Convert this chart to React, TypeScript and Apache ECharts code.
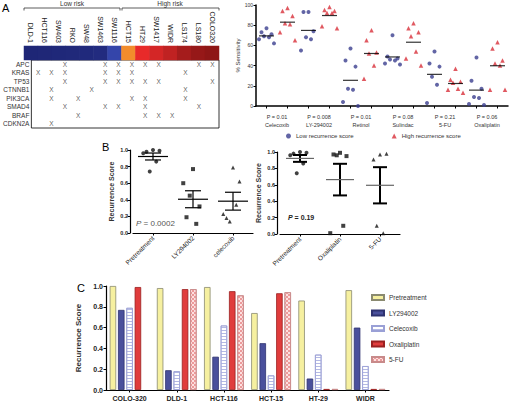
import React, { useEffect, useRef } from "react";
import * as echarts from "echarts";

// ---------- Panel A (left): mutation table ----------
const cellLines = ["DLD-1", "HCT116", "SW403", "RKO", "SW48", "SW1463", "SW1116", "HCT15", "HT29", "SW1417", "WIDR", "LS174", "LS180", "COLO320"];
const riskScores = [0.0, 0.02, 0.04, 0.06, 0.08, 0.12, 0.333, 0.5, 0.667, 0.72, 0.77, 0.85, 0.92, 0.96];
const genes = ["APC", "KRAS", "TP53", "CTNNB1", "PIK3CA", "SMAD4", "BRAF", "CDKN2A"];
const mutAPC = ["SW403", "SW1463", "SW1116", "HCT15", "HT29", "SW1417", "LS180", "COLO320"];
const mutKRAS = ["DLD-1", "HCT116", "SW403", "SW1463", "SW1116", "HCT15", "LS174"];
const mutTP53 = ["SW403", "SW1463", "SW1116", "HCT15", "HT29", "SW1417", "COLO320"];
const mutCTNNB1 = ["HCT116", "SW48", "LS174"];
const mutPIK3CA = ["HCT116", "RKO", "HCT15", "HT29", "LS174"];
const mutSMAD4 = ["SW403", "SW1463", "SW1116", "HT29", "LS180"];
const mutBRAF = ["RKO", "HT29", "SW1417", "WIDR"];
const mutCDKN2A = ["HCT116"];
const mutationLists = [mutAPC, mutKRAS, mutTP53, mutCTNNB1, mutPIK3CA, mutSMAD4, mutBRAF, mutCDKN2A];

// ---------- Panel A (right): % sensitivity ----------
const drugs = ["Celecoxib", "LY-294002", "Retinol", "Sulindac", "5-FU", "Oxaliplatin"];
const pValues = ["0.01", "0.008", "0.01", "0.08", "0.21", "0.06"];
const lowCelecoxib = [77, 73, 71, 69, 68, 66, 62];
const highCelecoxib = [97, 94, 89, 82, 81, 73, 65];
const lowLY = [93, 93, 74, 68, 66, 55];
const highLY = [98, 95, 94, 92, 92, 79, 77];
const lowRetinol = [57, 45, 39, 17, 16, 4, 0];
const highRetinol = [75, 65, 53, 52, 40, 27];
const lowSulindac = [70, 49, 47, 46, 45, 42, 41];
const highSulindac = [82, 77, 73, 69, 54, 47, 40];
const low5FU = [54, 42, 39, 29, 21, 3];
const high5FU = [37, 26, 24, 23, 17, 16, 13];
const lowOxaliplatin = [48, 25, 17, 9, 8, 2, 1];
const highOxaliplatin = [63, 57, 45, 42, 40, 16, 16];
const lowGroups = [lowCelecoxib, lowLY, lowRetinol, lowSulindac, low5FU, lowOxaliplatin];
const highGroups = [highCelecoxib, highLY, highRetinol, highSulindac, high5FU, highOxaliplatin];

// ---------- Panel C: recurrence score per cell line ----------
const recCells = ["COLO-320", "DLD-1", "HCT-116", "HCT-15", "HT-29", "WIDR"];
const recPretreatment = [1.0, 0.98, 0.99, 0.74, 0.86, 0.96];
const recLY294002 = [0.77, 0.19, 0.32, 0.45, 0.11, 0.6];
const recCelecoxib = [0.79, 0.18, 0.62, 0.14, 0.34, 0.23];
const recOxaliplatin = [0.99, 0.97, 0.95, 0.93, 0.01, 0.01];
const rec5FU = [null, 0.97, 0.91, 0.94, 0.01, 0.01];

// ---------- Panel B ----------
const bLeftCats = ["Pretreatment", "LY294002", "celecoxib"];
const bRightCats = ["Pretreatment", "Oxaliplatin", "5-FU"];
const bOxaliplatin = [0.99, 0.97, 0.95, 0.96, 0.1, 0.01];
const b5FU = [0.97, 0.91, 0.98, 0.1, 0.01];
const bLeftGroups = [recPretreatment, recLY294002, recCelecoxib];
const bRightGroups = [recPretreatment, bOxaliplatin, b5FU];
const bSymbols = ["circle", "rect", "triangle"];

const FONT = "'Liberation Sans', Arial, Helvetica, sans-serif";
const jit = [0, -5, 5, -2.5, 2.5, -7.5, 7.5];

const mean = (a: number[]) => a.reduce((s, v) => s + v, 0) / a.length;
const sem = (a: number[]) => {
  const m = mean(a);
  const v = a.reduce((s, x) => s + (x - m) * (x - m), 0) / (a.length - 1);
  return Math.sqrt(v) / Math.sqrt(a.length);
};

const errRender = (lw: number, meanColor: string, halfMean: number, halfWhisk: number) =>
  (params: any, api: any) => {
    const x = api.value(0);
    const m = api.value(1);
    const s = api.value(2);
    const c = api.coord([x, m]);
    const t = api.coord([x, m + s]);
    const b = api.coord([x, m - s]);
    return {
      type: "group",
      children: [
        { type: "line", shape: { x1: c[0], y1: t[1], x2: c[0], y2: b[1] }, style: { stroke: "#000", lineWidth: lw } },
        { type: "line", shape: { x1: c[0] - halfWhisk, y1: t[1], x2: c[0] + halfWhisk, y2: t[1] }, style: { stroke: "#000", lineWidth: lw } },
        { type: "line", shape: { x1: c[0] - halfWhisk, y1: b[1], x2: c[0] + halfWhisk, y2: b[1] }, style: { stroke: "#000", lineWidth: lw } },
        { type: "line", shape: { x1: c[0] - halfMean, y1: c[1], x2: c[0] + halfMean, y2: c[1] }, style: { stroke: meanColor, lineWidth: 1.2 } },
      ],
    };
  };

export default function App() {
  const ref = useRef<HTMLDivElement>(null);
  useEffect(() => {
    document.body.style.margin = "0";
    if (!ref.current) return;
    const chart = echarts.init(ref.current, undefined, { renderer: "svg" });

    const heatData = cellLines.map((c, i) => [i, 0, riskScores[i]]);
    const xMarks: number[][] = [];
    mutationLists.forEach((list, g) => list.forEach((c) => xMarks.push([cellLines.indexOf(c), g])));

    const lowPts: any[] = [];
    const highPts: any[] = [];
    const meanPts: any[] = [];
    lowGroups.forEach((arr, d) => {
      arr.forEach((v, i) => lowPts.push({ value: [2 * d, v], symbolOffset: [jit[i % jit.length], 0] }));
      meanPts.push([2 * d, mean(arr)]);
    });
    highGroups.forEach((arr, d) => {
      arr.forEach((v, i) => highPts.push({ value: [2 * d + 1, v], symbolOffset: [jit[i % jit.length], 0] }));
      meanPts.push([2 * d + 1, mean(arr)]);
    });

    const bPts = (groups: number[][], syms: string[]) => {
      const out: any[] = [];
      groups.forEach((arr, g) =>
        arr.forEach((v, i) =>
          out.push({ value: [g, v], symbol: syms[g], symbolOffset: [jit[i % jit.length] * 1.3, 0] })
        )
      );
      return out;
    };
    const bErr = (groups: number[][]) => groups.map((arr, g) => [g, mean(arr), sem(arr)]);

    const bValueAxis = (gridIndex: number) => ({
      type: "value",
      gridIndex,
      min: 0,
      max: 1,
      interval: 0.2,
      offset: 3,
      name: "Recurrence Score",
      nameLocation: "middle",
      nameGap: 15,
      nameTextStyle: { fontSize: 7, fontWeight: "bold", color: "#333" },
      axisLine: { show: true, lineStyle: { color: "#000", width: 1.2 } },
      axisTick: { show: true, length: 2.5, lineStyle: { color: "#000" } },
      axisLabel: { fontSize: 5.5, fontWeight: "bold", color: "#222", margin: 2, formatter: (v: number) => v.toFixed(1) },
      splitLine: { show: false },
    });
    const bCatAxis = (gridIndex: number, data: string[]) => ({
      type: "category",
      gridIndex,
      data,
      axisLine: { show: true, lineStyle: { color: "#000", width: 1.2 } },
      axisTick: { show: true, alignWithLabel: true, length: 2.5, lineStyle: { color: "#000" } },
      axisLabel: { fontSize: 6.5, color: "#222", rotate: 45, margin: 4, interval: 0 },
    });

    const barBase = { type: "bar", xAxisIndex: 6, yAxisIndex: 5, barWidth: 6.5, barGap: "28%" };

    chart.setOption({
      animation: false,
      textStyle: { fontFamily: FONT },
      grid: [
        { left: 24, top: 46, width: 195, height: 14 },
        { left: 24, top: 60, width: 195, height: 68, show: true, borderColor: "#000", borderWidth: 0.8 },
        { left: 256, top: 5, width: 252, height: 101 },
        { left: 133, top: 150, width: 120, height: 83 },
        { left: 280, top: 152, width: 120, height: 82 },
        { left: 106, top: 286, width: 283, height: 104 },
      ],
      visualMap: {
        show: false,
        seriesIndex: 0,
        min: 0,
        max: 1,
        inRange: { color: ["#1e2676", "#232d82", "#3445aa", "#f28c2c", "#e82a2a", "#a81d1d", "#861414"] },
      },
      xAxis: [
        {
          type: "category", gridIndex: 0, data: cellLines, position: "top",
          axisLine: { show: false }, axisTick: { show: false },
          axisLabel: { rotate: 90, fontSize: 7, color: "#222", margin: 3, interval: 0 },
        },
        { type: "category", gridIndex: 1, data: cellLines, axisLine: { show: false }, axisTick: { show: false }, axisLabel: { show: false } },
        {
          type: "category", gridIndex: 2, data: drugs.flatMap((d) => [d + " low", d + " high"]),
          axisLine: { show: true, lineStyle: { color: "#000", width: 1.5 } },
          axisTick: { show: true, alignWithLabel: true, interval: 0, length: 2.5, lineStyle: { color: "#000" } },
          axisLabel: { show: false },
        },
        {
          type: "category", gridIndex: 2, data: drugs, position: "bottom",
          axisLine: { show: false }, axisTick: { show: false },
          axisLabel: {
            interval: 0, margin: 7, fontSize: 5.5, color: "#333", lineHeight: 8,
            formatter: (name: string, idx: number) => `P = ${pValues[idx]}\n${name}`,
          },
        },
        bCatAxis(3, bLeftCats),
        bCatAxis(4, bRightCats),
        {
          type: "category", gridIndex: 5, data: recCells,
          axisLine: { show: true, lineStyle: { color: "#000", width: 1.2 } },
          axisTick: { show: true, alignWithLabel: true, length: 2.5, lineStyle: { color: "#000" } },
          axisLabel: { fontSize: 7, fontWeight: "bold", color: "#222", margin: 5, interval: 0 },
        },
      ],
      yAxis: [
        { type: "category", gridIndex: 0, data: ["risk"], show: false },
        {
          type: "category", gridIndex: 1, data: genes, inverse: true,
          axisLine: { show: false }, axisTick: { show: false },
          axisLabel: { fontSize: 6.5, color: "#333", margin: 2, interval: 0 },
        },
        {
          type: "value", gridIndex: 2, min: 0, max: 100, interval: 20,
          name: "% Sensitivity", nameLocation: "middle", nameGap: 15,
          nameTextStyle: { fontSize: 6, color: "#333" },
          axisLine: { show: true, lineStyle: { color: "#000", width: 1.5 } },
          axisTick: { show: true, length: 2.5, lineStyle: { color: "#000" } },
          axisLabel: { fontSize: 5, color: "#333", margin: 3 },
          splitLine: { show: false },
        },
        bValueAxis(3),
        bValueAxis(4),
        {
          type: "value", gridIndex: 5, min: 0, max: 1, interval: 0.2,
          name: "Recurrence Score", nameLocation: "middle", nameGap: 19,
          nameTextStyle: { fontSize: 8, fontWeight: "bold", color: "#333" },
          axisLine: { show: true, lineStyle: { color: "#000", width: 1.2 } },
          axisTick: { show: true, length: 2.5, lineStyle: { color: "#000" } },
          axisLabel: { fontSize: 7, fontWeight: "bold", color: "#222", margin: 3, formatter: (v: number) => v.toFixed(1) },
          splitLine: { show: false },
        },
      ],
      legend: [
        {
          left: 281, top: 128, itemWidth: 5, itemHeight: 5, itemGap: 38,
          textStyle: { fontSize: 6, color: "#333" },
          data: [
            { name: "Low recurrence score", icon: "circle" },
            { name: "High recurrence score", icon: "triangle" },
          ],
        },
        {
          left: 366, top: 289, orient: "vertical", itemWidth: 12, itemHeight: 5, itemGap: 8.5,
          textStyle: { fontSize: 6.5, color: "#333" },
          data: ["Pretreatment", "LY294002", "Celecoxib", "Oxaliplatin", "5-FU"].map((n) => ({ name: n, icon: "rect" })),
        },
      ],
      series: [
        { type: "heatmap", xAxisIndex: 0, yAxisIndex: 0, data: heatData, itemStyle: { borderWidth: 0 } },
        {
          type: "scatter", xAxisIndex: 1, yAxisIndex: 1, data: xMarks, symbolSize: 1,
          itemStyle: { color: "rgba(0,0,0,0)" },
          label: { show: true, position: "inside", formatter: "X", fontSize: 6.5, color: "#333" },
        },
        {
          name: "Low recurrence score", type: "scatter", xAxisIndex: 2, yAxisIndex: 2, data: lowPts,
          symbol: "circle", symbolSize: 4, itemStyle: { color: "#3b3f8e" },
        },
        {
          name: "High recurrence score", type: "scatter", xAxisIndex: 2, yAxisIndex: 2, data: highPts,
          symbol: "triangle", symbolSize: 4.5, itemStyle: { color: "#d8303a" },
        },
        {
          name: "group means", type: "scatter", xAxisIndex: 2, yAxisIndex: 2, data: meanPts,
          symbol: "rect", symbolSize: [15, 1.2], itemStyle: { color: "#000" },
        },
        {
          name: "B left points", type: "scatter", xAxisIndex: 4, yAxisIndex: 3, data: bPts(bLeftGroups, bSymbols),
          symbolSize: 4, itemStyle: { color: "#111" }, z: 3,
        },
        {
          name: "B left err", type: "custom", xAxisIndex: 4, yAxisIndex: 3, data: bErr(bLeftGroups),
          renderItem: errRender(1.2, "#000", 15, 8), encode: { x: 0, y: 1 }, z: 4,
        },
        {
          name: "B right points", type: "scatter", xAxisIndex: 5, yAxisIndex: 4, data: bPts(bRightGroups, bSymbols),
          symbolSize: 4, itemStyle: { color: "#111" }, z: 3,
        },
        {
          name: "B right err", type: "custom", xAxisIndex: 5, yAxisIndex: 4, data: bErr(bRightGroups),
          renderItem: errRender(2, "#666", 14, 7), encode: { x: 0, y: 1 }, z: 4,
        },
        {
          ...barBase, name: "Pretreatment", data: recPretreatment,
          itemStyle: { color: "#f6f0a0", borderColor: "#8a8a70", borderWidth: 0.8 },
        },
        {
          ...barBase, name: "LY294002", data: recLY294002,
          itemStyle: { color: "#4a509c", borderColor: "#2e3270", borderWidth: 0.8 },
        },
        {
          ...barBase, name: "Celecoxib", data: recCelecoxib,
          itemStyle: {
            color: "#ffffff", borderColor: "#9aa0d6", borderWidth: 0.8,
            decal: { symbol: "rect", symbolSize: 1, dashArrayX: [1, 0], dashArrayY: [1, 1.4], rotation: 0, color: "#b4b9e4" },
          },
        },
        {
          ...barBase, name: "Oxaliplatin", data: recOxaliplatin,
          itemStyle: { color: "#e03c3c", borderColor: "#9a2020", borderWidth: 0.8 },
        },
        {
          ...barBase, name: "5-FU", data: rec5FU,
          itemStyle: {
            color: "#fde0e0", borderColor: "#c88a8a", borderWidth: 0.8,
            decal: { symbol: "rect", symbolSize: 1, dashArrayX: [[1.2, 1.2], [0, 1.2, 1.2, 0]], dashArrayY: [1.2, 0], rotation: 0, color: "#ec9a9a" },
          },
        },
      ],
      graphic: [
        { type: "text", left: 2, top: 2, style: { text: "A", fontSize: 11, fill: "#000", fontFamily: FONT } },
        { type: "text", left: 102, top: 141, style: { text: "B", fontSize: 11, fill: "#000", fontFamily: FONT } },
        { type: "text", left: 77, top: 282, style: { text: "C", fontSize: 11, fill: "#000", fontFamily: FONT } },
        {
          type: "text", x: 72, y: 0,
          style: { text: "Low risk", fontSize: 6.5, fill: "#333", align: "center", verticalAlign: "top", fontFamily: FONT },
        },
        {
          type: "text", x: 170, y: 0,
          style: { text: "High risk", fontSize: 6.5, fill: "#333", align: "center", verticalAlign: "top", fontFamily: FONT },
        },
        {
          type: "polyline", shape: { points: [[24, 10.5], [24, 8], [120, 8], [120, 10.5]] },
          style: { stroke: "#333", lineWidth: 0.8, fill: "none" },
        },
        {
          type: "polyline", shape: { points: [[122, 10.5], [122, 8], [219, 8], [219, 10.5]] },
          style: { stroke: "#333", lineWidth: 0.8, fill: "none" },
        },
        {
          type: "text", x: 136, y: 223,
          style: {
            text: "{i|P} = 0.0002", verticalAlign: "middle", fontSize: 8, fill: "#555", fontFamily: FONT,
            rich: { i: { fontStyle: "italic", fontSize: 8, fill: "#555", fontFamily: FONT } },
          },
        },
        {
          type: "text", x: 288, y: 217,
          style: {
            text: "{i|P} = 0.19", verticalAlign: "middle", fontSize: 7, fontWeight: "bold", fill: "#222", fontFamily: FONT,
            rich: { i: { fontStyle: "italic", fontWeight: "bold", fontSize: 7, fill: "#222", fontFamily: FONT } },
          },
        },
      ],
    });
    return () => chart.dispose();
  }, []);
  return <div ref={ref} style={{ width: 510, height: 405 }} />;
}
